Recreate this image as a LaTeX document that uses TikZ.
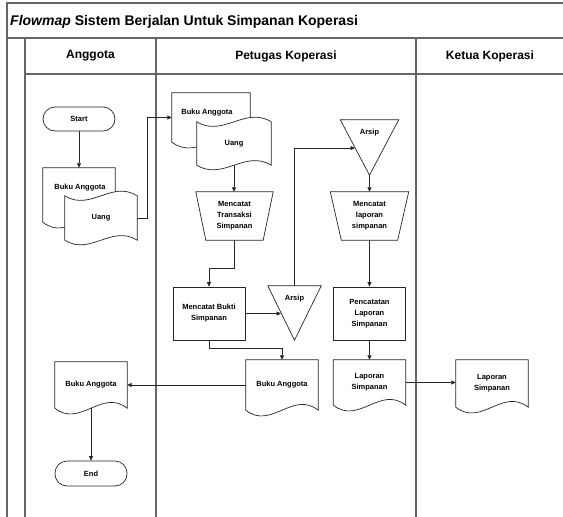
\documentclass[tikz,border=0pt]{standalone}
\usepackage{fontspec}
\setmainfont{Liberation Sans}
\usetikzlibrary{calc,arrows.meta}
\pgfdeclarelayer{background}
\pgfsetlayers{background,main}
\colorlet{frm}{black!60}
\colorlet{shp}{black!85}
\newcommand\sfont{\fontsize{7.5}{11}\selectfont\bfseries}
\tikzset{
 frameline/.style={draw=frm, line width=1.1pt},
 outl/.style={draw=shp, line width=0.7pt, fill=white},
 conn/.style={draw=shp, line width=0.7pt},
 arr/.style={conn, -{Triangle[length=4.5pt,width=4pt]}},
 box/.style={inner sep=0pt, align=center, font=\sfont},
 lbl/.style={inner sep=0pt, align=center, font=\sfont},
 term/.style={box, draw=shp, line width=0.7pt, rounded corners=12pt},
 proc/.style={box, draw=shp, line width=0.7pt},
 hdr/.style={inner sep=0pt, font=\fontsize{12}{14}\selectfont\bfseries},
}
\newcommand\docout[1]{%
 \draw[outl] let \p1=(#1.south west), \p2=(#1.north east), \n1={\x2-\x1} in
 (\x1,\y2) -- (\x2,\y2) -- (\x2,\y1) .. controls (\x2-0.35*\n1,\y1+20) and (\x1+0.35*\n1,\y1-20) .. (\x1,\y1) -- cycle;}
\newcommand\tapeout[1]{%
 \draw[outl] let \p1=(#1.south west), \p2=(#1.north east), \n1={\x2-\x1} in
 (\x1,\y2) .. controls (\x1+0.35*\n1,\y2-16) and (\x2-0.35*\n1,\y2+16) .. (\x2,\y2) -- (\x2,\y1) .. controls (\x2-0.35*\n1,\y1+16) and (\x1+0.35*\n1,\y1-16) .. (\x1,\y1) -- cycle;}
\newcommand\trapout[2]{%
 \draw[outl] let \p1=(#1.south west), \p2=(#1.north east) in
 (\x1,\y2) -- (\x2,\y2) -- (\x2-#2,\y1) -- (\x1+#2,\y1) -- cycle;}
\newcommand\triout[1]{\draw[outl] (#1.north west) -- (#1.north east) -- (#1.south) -- cycle;}
\begin{document}
\begin{tikzpicture}[x=1pt,y=-1pt]
\begin{pgfonlayer}{background}
\fill[white] (0,0) rectangle (563,517);
\end{pgfonlayer}
\useasboundingbox (0,0) rectangle (563,517);
% frame
\draw[frameline] (7,517) -- (7,3) -- (563,3);
\draw[frameline] (7,38) -- (563,38);
\draw[frameline] (25,38) -- (25,517);
\draw[frameline] (25,74) -- (563,74);
\draw[frameline] (156,38) -- (156,517);
\draw[frameline] (416,38) -- (416,517);
\node[anchor=base west, inner sep=0pt, font=\fontsize{14}{16}\selectfont\bfseries] (title) at (10,25) {\textit{Flowmap} Sistem Berjalan Untuk Simpanan Koperasi};
\node[hdr] (hA) at (90.5,56) {Anggota};
\node[hdr] (hP) at (286,56) {Petugas Koperasi};
\node[hdr] (hK) at (490,56) {Ketua Koperasi};
% Anggota lane
\node[term, minimum width=72pt, minimum height=24pt] (start) at (79,119) {Start};
\node[box, minimum width=72pt, minimum height=54pt] (ba1) at (79,195) {};
\node[lbl] (ba1t) at (80,188) {Buku Anggota};
\node[box, minimum width=72pt, minimum height=44pt] (uang1) at (101,218) {Uang};
\node[box, minimum width=72pt, minimum height=46pt] (ba4) at (91,385) {Buku Anggota};
\node[term, minimum width=72pt, minimum height=25pt] (end) at (91,473.5) {End};
% Petugas lane
\node[box, minimum width=78pt, minimum height=49pt] (ba2) at (211,117.5) {};
\node[lbl] (ba2t) at (207,113) {Buku Anggota};
\node[box, minimum width=74pt, minimum height=43pt] (uang2) at (234,143.5) {Uang};
\node[box, minimum width=77pt, minimum height=48pt] (mt) at (234.5,216) {Mencatat\\Transaksi\\Simpanan};
\node[proc, minimum width=72pt, minimum height=53pt] (mb) at (209,313.5) {Mencatat Bukti\\Simpanan};
\node[box, minimum width=53pt, minimum height=54pt] (arsip1) at (294.5,313) {};
\node[lbl] (arsip1t) at (294.5,299) {Arsip};
\node[box, minimum width=72pt, minimum height=50pt] (ba3) at (282,385) {Buku Anggota};
\node[box, minimum width=58pt, minimum height=55pt] (arsip2) at (369.5,147.5) {};
\node[lbl] (arsip2t) at (369.5,133) {Arsip};
\node[box, minimum width=78pt, minimum height=48pt] (ml) at (369.5,216) {Mencatat\\laporan\\simpanan};
\node[proc, minimum width=72pt, minimum height=53pt] (pl) at (369.5,313.5) {Pencatatan\\Laporan\\Simpanan};
\node[box, minimum width=72pt, minimum height=45pt] (ls1) at (369.5,382.5) {Laporan\\Simpanan};
% Ketua lane
\node[box, minimum width=72pt, minimum height=47pt] (ls2) at (492,383.5) {Laporan\\Simpanan};
% outlines
\begin{pgfonlayer}{background}
\docout{ba1}
\tapeout{uang1}
\docout{ba2}
\tapeout{uang2}
\trapout{mt}{10}
\trapout{ml}{11}
\triout{arsip1}
\triout{arsip2}
\docout{ba3}
\docout{ba4}
\docout{ls1}
\docout{ls2}
\end{pgfonlayer}
% connectors
\coordinate (a1w) at (281,313.5);
\coordinate (a2w) at (355,148);
\draw[arr] (start) -- (ba1);
\draw[arr] (uang1.east) -- ++(10,0) |- (ba2.west);
\draw[arr] (uang2.south) -- (uang2.south |- mt.north);
\draw[arr] (mt.south) -- ++(0,28) -| (mb.north);
\draw[arr] (mb.east) -- (a1w);
\draw[arr] (arsip1.north) |- (a2w);
\draw[arr] (arsip2.south) -- (ml.north);
\draw[arr] (ml.south) -- (pl.north);
\draw[arr] (pl.south) -- (ls1.north);
\draw[arr] (ls1.east) -- (ls1.east -| ls2.west);
\draw[arr] (mb.south) -- ++(0,8) -| (ba3.north);
\draw[arr] (ba3.west) -- (ba3.west -| ba4.east);
\draw[arr] (ba4.south) -- (end.north);
\end{tikzpicture}
\end{document}
